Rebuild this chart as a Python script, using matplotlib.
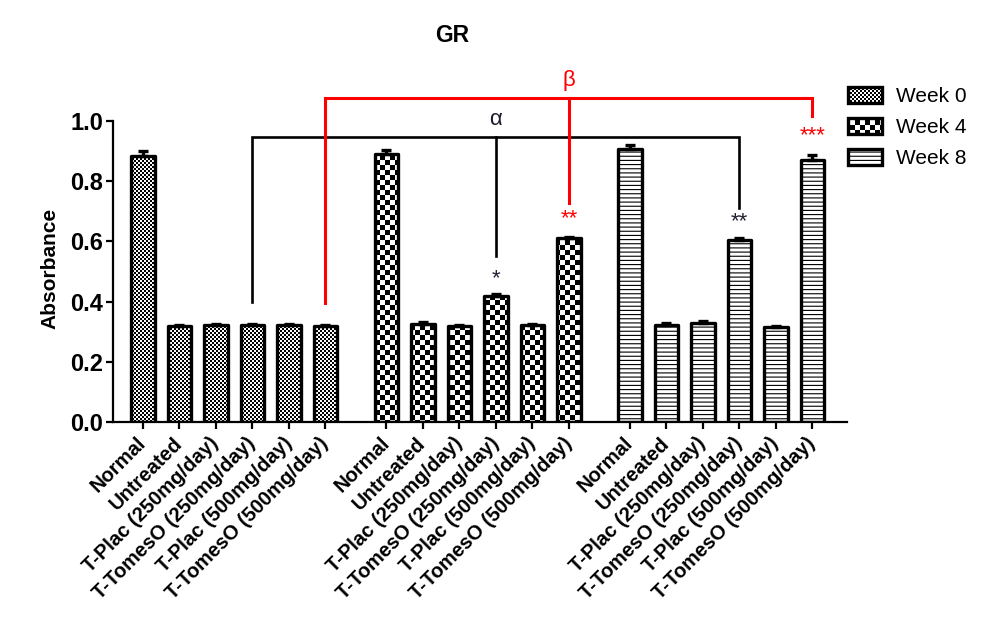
import warnings
warnings.filterwarnings("ignore")
import numpy as np
import matplotlib
matplotlib.use("Agg")
import matplotlib.pyplot as plt
import matplotlib.hatch as mhatch
from matplotlib.path import Path
from matplotlib.patches import Patch

# ---------------- data ----------------
categories = ["Normal", "Untreated", "T-Plac (250mg/day)", "T-TomesO (250mg/day)",
              "T-Plac (500mg/day)", "T-TomesO (500mg/day)"]
weeks = ["Week 0", "Week 4", "Week 8"]
week0 = [0.885, 0.318, 0.322, 0.322, 0.322, 0.318]
week4 = [0.890, 0.326, 0.318, 0.420, 0.322, 0.610]
week8 = [0.908, 0.322, 0.330, 0.605, 0.314, 0.872]
week0_err = [0.014, 0.004, 0.004, 0.004, 0.004, 0.004]
week4_err = [0.014, 0.005, 0.004, 0.005, 0.005, 0.005]
week8_err = [0.012, 0.006, 0.006, 0.005, 0.005, 0.014]
yticks = [0.0, 0.2, 0.4, 0.6, 0.8, 1.0]

# ---------------- custom checker hatch ----------------
class CheckerHatch(mhatch.HatchPatternBase):
    def __init__(self, hatch, density):
        n = 2 * hatch.count('k')
        self.n = n
        self.num_vertices = (n * n // 2) * 5 if n else 0

    def set_vertices_and_codes(self, vertices, codes):
        n = self.n
        s = 1.0 / n
        idx = 0
        for i in range(n):
            for j in range(n):
                if (i + j) % 2 == 0:
                    x0, y0 = i * s, j * s
                    vertices[idx:idx + 5] = [(x0, y0), (x0 + s, y0), (x0 + s, y0 + s),
                                             (x0, y0 + s), (x0, y0)]
                    codes[idx:idx + 5] = [Path.MOVETO, Path.LINETO, Path.LINETO,
                                          Path.LINETO, Path.CLOSEPOLY]
                    idx += 5

mhatch._hatch_types.append(CheckerHatch)

hatches = ['k' * 25, 'k' * 10, '----']
hatch_lw = [0.01, 0.01, 0.8]

plt.rcParams['font.family'] = ['Liberation Sans', 'DejaVu Sans']

fig = plt.figure(figsize=(9.9, 6.22), dpi=100)
ax = fig.add_axes([113 / 990, 200 / 622, 734 / 990, 331.1 / 622])

group_offsets = [0.0, 6.67, 13.34]
width = 0.64
all_x = []
all_labels = []
series = [week0, week4, week8]
errs = [week0_err, week4_err, week8_err]
for g, (vals, err) in enumerate(zip(series, errs)):
    x = np.arange(len(categories)) + group_offsets[g]
    bars = ax.bar(x, vals, width=width, facecolor='white', edgecolor='black',
                  linewidth=2.4, hatch=hatches[g], joinstyle='round', zorder=2)
    for b in bars:
        try:
            b.set_hatch_linewidth(hatch_lw[g])
        except Exception:
            pass
    ax.errorbar(x, vals, yerr=[np.zeros(len(err)), err], fmt='none', ecolor='black',
                elinewidth=2.4, capsize=3.6, capthick=2.4, zorder=3)
    all_x.extend(x)
    all_labels.extend(categories)

ax.set_xlim(-0.82, 19.29)
ax.set_ylim(0, 1.1)
ax.spines['top'].set_visible(False)
ax.spines['right'].set_visible(False)
ax.spines['left'].set_bounds(0, 1.0)
for sp in ['left', 'bottom']:
    ax.spines[sp].set_linewidth(1.6)
ax.set_yticks(yticks)
ax.set_yticklabels([f"{v:.1f}" for v in yticks], fontsize=17, fontweight='bold')
ax.tick_params(axis='both', width=1.6, length=5, direction='out')
ax.tick_params(axis='y', pad=2)
ax.set_xticks(all_x)
ax.set_xticklabels(all_labels, rotation=45, ha='right', va='center',
                   rotation_mode='anchor', fontsize=14.5, fontweight='bold')
ax.tick_params(axis='x', pad=8)

ax.set_ylabel('Absorbance', fontsize=15, fontweight='bold')
ax.yaxis.set_label_coords(-0.073, 0.4636)

# ---------------- significance brackets ----------------
xa = [3 + group_offsets[0], 3 + group_offsets[1], 3 + group_offsets[2]]
xb = [5 + group_offsets[0], 5 + group_offsets[1], 5 + group_offsets[2]]
ya = 0.947
yb = 1.076
ax.plot([xa[0], xa[0], xa[2], xa[2]], [0.40, ya, ya, 0.71], color='black', lw=1.9,
        solid_joinstyle='miter', clip_on=False, zorder=4)
ax.plot([xa[1], xa[1]], [ya, 0.55], color='black', lw=1.9, clip_on=False, zorder=4)
ax.plot([xb[0], xb[0], xb[2], xb[2]], [0.395, yb, yb, 1.017], color='red', lw=2.2,
        solid_joinstyle='miter', clip_on=False, zorder=5)
ax.plot([xb[1], xb[1]], [yb, 0.727], color='red', lw=2.2, clip_on=False, zorder=5)
ax.text(xa[1], 1.005, 'α', color='#1a1a2e', fontsize=16, ha='center', va='center')
ax.text(xb[1], 1.135, 'β', color='red', fontsize=16, ha='center', va='center', clip_on=False)

ax.text(xa[1], 0.475, '*', color='#222233', fontsize=16, ha='center', va='center')
ax.text(xb[1], 0.675, '**', color='red', fontsize=16, ha='center', va='center')
ax.text(xa[2], 0.665, '**', color='#222233', fontsize=16, ha='center', va='center')
ax.text(xb[2], 0.95, '***', color='red', fontsize=16, ha='center', va='center')

fig.text(452 / 990, 1 - 35 / 622, 'GR', fontsize=16.5, fontweight='bold',
         ha='center', va='center')

# ---------------- legend ----------------
handles = [Patch(facecolor='white', edgecolor='black', linewidth=2.4, hatch=h,
                 joinstyle='round') for h in hatches]
leg = fig.legend(handles, weeks, loc='upper left', bbox_to_anchor=(848 / 990, 1 - 87 / 622),
                 frameon=False, fontsize=15, handlelength=1.63, handleheight=0.82,
                 handletextpad=0.65, labelspacing=0.55, borderpad=0, borderaxespad=0)
for p, lw in zip(leg.get_patches(), hatch_lw):
    try:
        p.set_hatch_linewidth(lw)
    except Exception:
        pass

fig.savefig('out.png', dpi=100)
